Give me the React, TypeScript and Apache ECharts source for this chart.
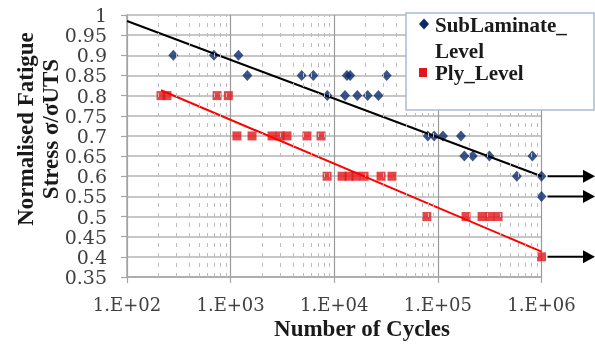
import { useEffect, useRef } from 'react';
import * as echarts from 'echarts';

// Sub-laminate level fatigue data (cycles, normalised stress)
const subLaminateCycles = [280, 690, 1190, 1450, 4850, 6280, 13250, 14250, 32100, 8570, 12700, 16700, 21000, 26700, 80000, 92000, 112000, 167000, 180000, 217000, 314000, 817000, 578000, 1000000, 1000000];
const subLaminateStress = [0.9, 0.9, 0.9, 0.85, 0.85, 0.85, 0.85, 0.85, 0.85, 0.8, 0.8, 0.8, 0.8, 0.8, 0.7, 0.7, 0.7, 0.7, 0.65, 0.65, 0.65, 0.65, 0.6, 0.6, 0.55];

// Ply level fatigue data
const plyCycles = [213, 243, 740, 950, 1150, 1610, 2510, 3000, 3500, 5460, 7460, 8530, 11900, 13900, 16200, 19400, 28300, 36100, 78200, 187000, 267000, 319000, 381000, 1000000];
const plyStress = [0.8, 0.8, 0.8, 0.8, 0.7, 0.7, 0.7, 0.7, 0.7, 0.7, 0.7, 0.6, 0.6, 0.6, 0.6, 0.6, 0.6, 0.6, 0.5, 0.5, 0.5, 0.5, 0.5, 0.4];

// Trendlines: S = intercept + slope * log10(N)
const subTrend = { intercept: 1.1775, slope: -0.09625, fromCycles: 100 };
const plyTrend = { intercept: 1.067, slope: -0.109 };

// Run-out arrows
const runoutCycles = 1000000;
const runoutStress = [0.6, 0.55, 0.4];

// Axis ticks and labels
const xTickValues = [100, 1000, 10000, 100000, 1000000];
const xTickLabels = ['1.E+02', '1.E+03', '1.E+04', '1.E+05', '1.E+06'];
const yTickValues = [1, 0.95, 0.9, 0.85, 0.8, 0.75, 0.7, 0.65, 0.6, 0.55, 0.5, 0.45, 0.4, 0.35];
const yTickLabels = ['1', '0.95', '0.9', '0.85', '0.8', '0.75', '0.7', '0.65', '0.6', '0.55', '0.5', '0.45', '0.4', '0.35'];

const xMin = 100;
const xMax = 1000000;
const yMin = 0.35;
const yMax = 1;
const yStep = 0.05;

const SERIF = "'Liberation Serif', 'Times New Roman', serif";
const TICK_SERIF = "'DejaVu Serif', 'Liberation Serif', serif";

export default function App() {
  const ref = useRef<HTMLDivElement>(null);
  useEffect(() => {
    const chart = echarts.init(ref.current!, null, { renderer: 'svg' });

    const minorLines: number[] = [];
    for (let d = Math.log10(xMin); d < Math.log10(xMax); d++) {
      for (let k = 2; k <= 9; k++) minorLines.push(k * Math.pow(10, d));
    }

    const trend = (t: { intercept: number; slope: number }, n: number) => t.intercept + t.slope * Math.log10(n);
    const plyFrom = Math.min(...plyCycles);
    const plyTo = Math.max(...plyCycles);
    const subTo = Math.max(...subLaminateCycles);

    const option: any = {
      animation: false,
      textStyle: { fontFamily: SERIF },
      grid: { left: 127, right: 53.5, top: 15, bottom: 68 },
      xAxis: {
        type: 'log',
        logBase: 10,
        min: xMin,
        max: xMax,
        axisLine: { show: true, lineStyle: { color: '#a6a6a6', width: 1.5 } },
        axisTick: { show: true, inside: false, length: 6, lineStyle: { color: '#a6a6a6', width: 1.2 } },
        axisLabel: { show: false },
        splitLine: { show: true, lineStyle: { color: '#9a9a9a', width: 1.2 } },
      },
      yAxis: {
        type: 'value',
        min: yMin,
        max: yMax,
        interval: yStep,
        axisLine: { show: true, lineStyle: { color: '#a6a6a6', width: 1.5 } },
        axisTick: { show: true, inside: false, length: 6, lineStyle: { color: '#a6a6a6', width: 1.2 } },
        axisLabel: { show: false },
        splitLine: { show: true, lineStyle: { color: '#b4b4b4', width: 1.6 } },
      },
      series: [
        {
          type: 'scatter',
          name: 'minor',
          data: [],
          silent: true,
          z: 1,
          markLine: {
            silent: true,
            symbol: ['none', 'none'],
            label: { show: false },
            lineStyle: { color: '#bdbdbd', type: [4, 6], width: 1 },
            data: minorLines.map((v) => ({ xAxis: v })),
          },
        },
        {
          type: 'scatter',
          name: 'SubLaminate_Level',
          symbol: 'diamond',
          symbolSize: [10, 11],
          itemStyle: { color: '#0b2a6a' },
          z: 3,
          data: subLaminateCycles.map((n, i) => [n, subLaminateStress[i]]),
        },
        {
          type: 'scatter',
          name: 'Ply_Level',
          symbol: 'rect',
          symbolSize: 9,
          itemStyle: { color: '#e3161c' },
          z: 3,
          data: plyCycles.map((n, i) => [n, plyStress[i]]),
        },
        {
          type: 'line',
          name: 'SubLaminate trend',
          showSymbol: false,
          symbol: 'none',
          silent: true,
          z: 4,
          lineStyle: { color: '#000000', width: 2 },
          data: [
            [subTrend.fromCycles, trend(subTrend, subTrend.fromCycles)],
            [subTo, trend(subTrend, subTo)],
          ],
        },
        {
          type: 'line',
          name: 'Ply trend',
          showSymbol: false,
          symbol: 'none',
          silent: true,
          z: 4,
          lineStyle: { color: '#ff0000', width: 2 },
          data: [
            [plyFrom, trend(plyTrend, plyFrom)],
            [plyTo, trend(plyTrend, plyTo)],
          ],
        },
      ],
    };
    chart.setOption(option);

    const W = 595;
    const graphic: any[] = [];
    const toPx = (x: number, y: number) => chart.convertToPixel({ gridIndex: 0 }, [x, y]) as number[];

    // Tick labels placed through the axis scales
    yTickValues.forEach((v, i) => {
      const p = toPx(xMin, v);
      graphic.push({
        type: 'text',
        id: 'ylab-' + i,
        x: p[0] - 20,
        y: p[1],
        z: 21,
        style: {
          text: yTickLabels[i],
          fill: '#404040',
          font: 'normal 19px ' + TICK_SERIF,
          textAlign: 'right',
          textVerticalAlign: 'middle',
          align: 'right',
          verticalAlign: 'middle',
        },
      });
    });
    xTickValues.forEach((v, i) => {
      const p = toPx(v, yMin);
      graphic.push({
        type: 'text',
        id: 'xlab-' + i,
        x: p[0],
        y: p[1] + 27,
        z: 21,
        style: {
          text: xTickLabels[i],
          fill: '#404040',
          font: 'normal 18px ' + TICK_SERIF,
          textAlign: 'center',
          textVerticalAlign: 'middle',
          align: 'center',
          verticalAlign: 'middle',
        },
      });
    });

    runoutStress.forEach((s, i) => {
      const p = toPx(runoutCycles, s);
      graphic.push({
        type: 'line',
        id: 'arrow-line-' + i,
        shape: { x1: p[0] + 6, y1: p[1], x2: W - 10, y2: p[1] },
        style: { stroke: '#000', lineWidth: 2 },
        z: 10,
      });
      graphic.push({
        type: 'polygon',
        id: 'arrow-head-' + i,
        shape: { points: [[W - 12, p[1] - 6.5], [W, p[1]], [W - 12, p[1] + 6.5]] },
        style: { fill: '#000' },
        z: 10,
      });
    });

    // Legend box
    graphic.push({
      type: 'rect',
      id: 'legend-box',
      shape: { x: 406, y: 13, width: 188, height: 97 },
      style: { fill: '#ffffff', stroke: '#a9bcd8', lineWidth: 1.5 },
      z: 20,
    });
    graphic.push({
      type: 'polygon',
      id: 'legend-diamond',
      shape: { points: [[424, 18.5], [429, 24], [424, 29.5], [419, 24]] },
      style: { fill: '#0b2a6a' },
      z: 21,
    });
    graphic.push({
      type: 'rect',
      id: 'legend-square',
      shape: { x: 419, y: 68, width: 8, height: 9 },
      style: { fill: '#e3161c' },
      z: 21,
    });
    const legendText = (id: string, text: string, y: number) => ({
      type: 'text',
      id,
      x: 435,
      y,
      z: 21,
      style: {
        text,
        fill: '#1a1a1a',
        font: 'bold 21px ' + SERIF,
        textAlign: 'left',
        textVerticalAlign: 'middle',
        align: 'left',
        verticalAlign: 'middle',
      },
    });
    graphic.push(legendText('legend-t1', 'SubLaminate_', 25));
    graphic.push(legendText('legend-t2', 'Level', 51));
    graphic.push(legendText('legend-t3', 'Ply_Level', 73));

    // Axis titles
    graphic.push({
      type: 'text',
      id: 'y-title',
      x: 37.5,
      y: 129,
      rotation: Math.PI / 2,
      z: 21,
      style: {
        text: 'Normalised Fatigue\nStress σ/σUTS',
        fill: '#1a1a1a',
        font: 'bold 23px ' + SERIF,
        lineHeight: 25,
        textAlign: 'center',
        textVerticalAlign: 'middle',
        align: 'center',
        verticalAlign: 'middle',
      },
    });
    graphic.push({
      type: 'text',
      id: 'x-title',
      x: 362,
      y: 328,
      z: 21,
      style: {
        text: 'Number of Cycles',
        fill: '#1a1a1a',
        font: 'bold 23px ' + SERIF,
        textAlign: 'center',
        textVerticalAlign: 'middle',
        align: 'center',
        verticalAlign: 'middle',
      },
    });

    chart.setOption({ graphic });

    return () => chart.dispose();
  }, []);
  return <div ref={ref} style={{ position: 'fixed', left: 0, top: 0, width: 595, height: 345 }} />;
}
